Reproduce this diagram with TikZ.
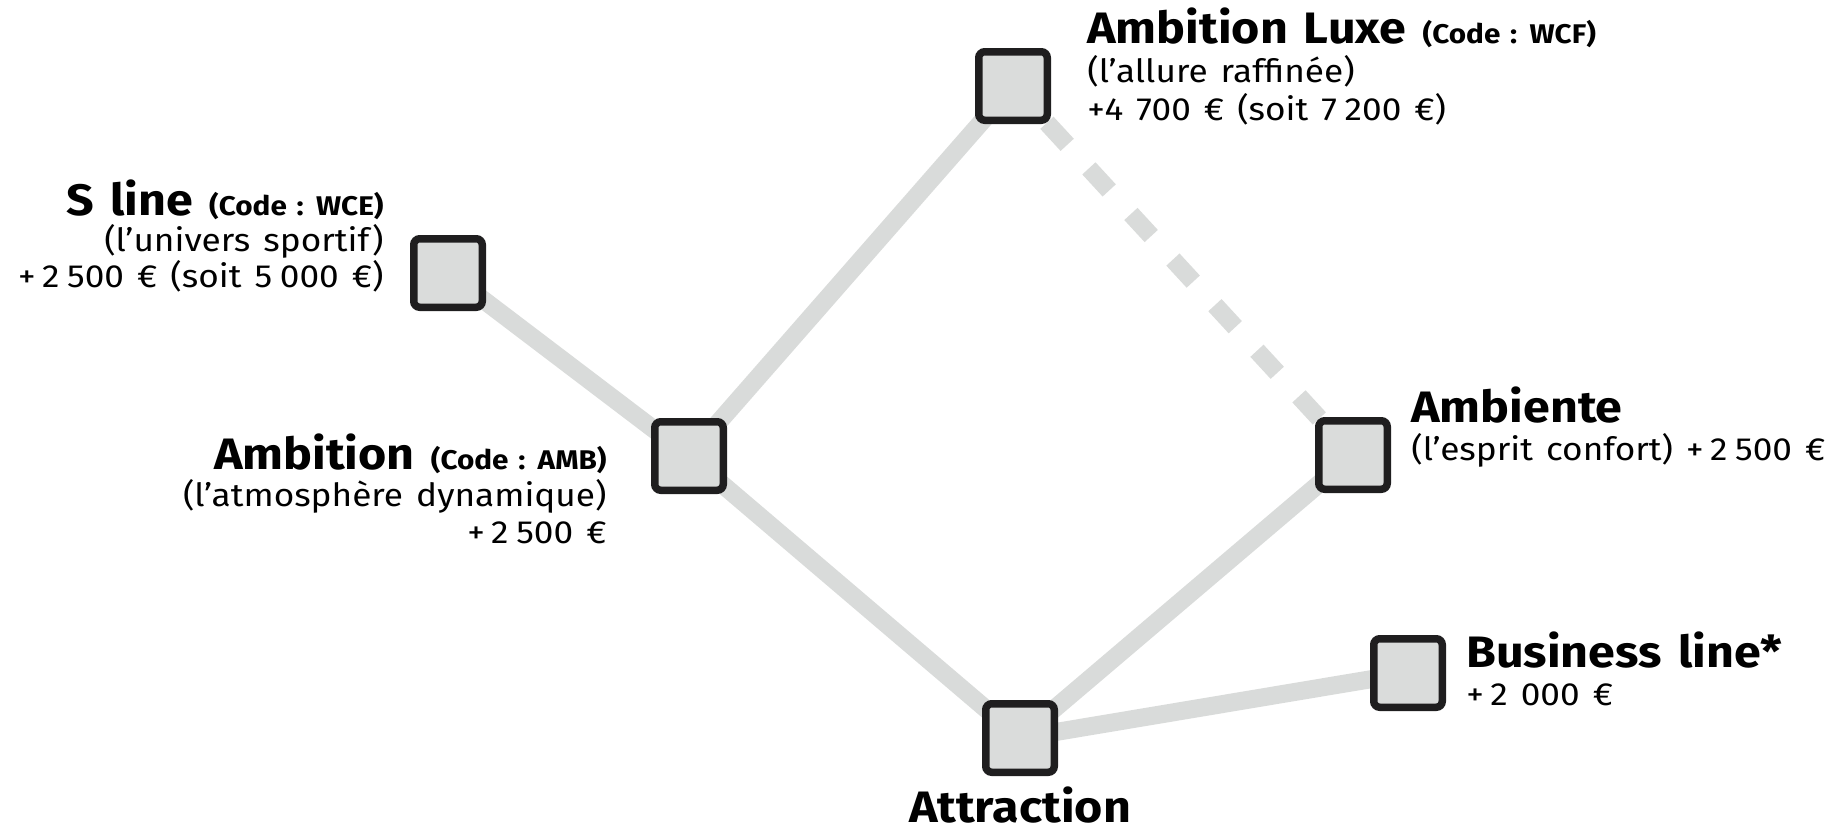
\documentclass[tikz,border=0pt]{standalone}
\usepackage{fontspec}
\setmainfont{Fira Sans}[FakeStretch=1.1,WordSpace=1.4]
\definecolor{linegray}{HTML}{D9DBDA}
\definecolor{boxfill}{HTML}{DADCDB}
\definecolor{boxdraw}{HTML}{1F1E1F}
\newcommand\codefnt{\bfseries\fontsize{13.5}{16}\selectfont}
\newcommand\thsp{\kern0.24em}
\newcommand\plsp{\kern0.2em}
\begin{document}
\begin{tikzpicture}[x=0.5pt,y=-0.5pt,
  optbox/.style={draw=boxdraw,fill=boxfill,line width=3.75pt,rounded corners=3pt,minimum size=34.25pt,inner sep=0pt},
  conn/.style={draw=linegray,line width=9pt},
  dconn/.style={conn,dash pattern=on 15pt off 16pt,dash phase=6pt},
  title/.style={inner sep=0pt,font=\bfseries\fontsize{22}{26}\selectfont},
  sub/.style={inner sep=0pt,font=\fontsize{16}{19}\selectfont}]
\useasboundingbox (0,0) rectangle (1843,830);
% positions
\coordinate (pS) at (448,273);
\coordinate (pA) at (689,456);
\coordinate (pL) at (1013,86);
\coordinate (pE) at (1353,455);
\coordinate (pT) at (1020,738);
\coordinate (pB) at (1408,673);
% connectors
\draw[conn] (pS) -- (pA);
\draw[conn] (pA) -- (pL);
\draw[conn] (pA) -- (pT);
\draw[conn] (pT) -- (pE);
\draw[conn] (pT) -- (pB);
\draw[dconn] (pL) -- (pE);
% boxes
\node[optbox] (sline) at (pS) {};
\node[optbox] (amb) at (pA) {};
\node[optbox] (luxe) at (pL) {};
\node[optbox] (ambiente) at (pE) {};
\node[optbox] (attr) at (pT) {};
\node[optbox] (busi) at (pB) {};
% S line
\node[title,anchor=base east] (slineT) at (384,215) {S line {\codefnt (Code : WCE)}};
\node[sub,anchor=base east] (slineU) at (384,251) {(l’univers sportif)};
\node[sub,anchor=base east] (slineV) at (384,287) {+\plsp2\thsp500 € (soit 5\thsp000 €)};
% Ambition
\node[title,anchor=base east] (ambT) at (607,469) {Ambition {\codefnt (Code : AMB)}};
\node[sub,anchor=base east] (ambU) at (607,506) {(l’atmosphère dynamique)};
\node[sub,anchor=base east] (ambV) at (607,543) {+\plsp2\thsp500 €};
% Luxe
\node[title,anchor=base west] (luxeT) at (1087,43) {Ambition Luxe {\codefnt (Code : WCF)}};
\node[sub,anchor=base west] (luxeU) at (1087,82) {(l’allure raffinée)};
\node[sub,anchor=base west] (luxeV) at (1087,120) {+4 700 € (soit 7\thsp200 €)};
% Ambiente
\node[title,anchor=base west] (ambiT) at (1411,422) {Ambiente};
\node[sub,anchor=base west] (ambiU) at (1411,460) {(l’esprit confort) +\plsp2\thsp500 €};
% Business
\node[title,anchor=base west] (busiT) at (1466,667) {Business line*};
\node[sub,anchor=base west] (busiU) at (1466,705) {+\plsp2 000 €};
% Attraction
\node[title,anchor=base] (attrT) at (1020,822) {Attraction};
\end{tikzpicture}
\end{document}
